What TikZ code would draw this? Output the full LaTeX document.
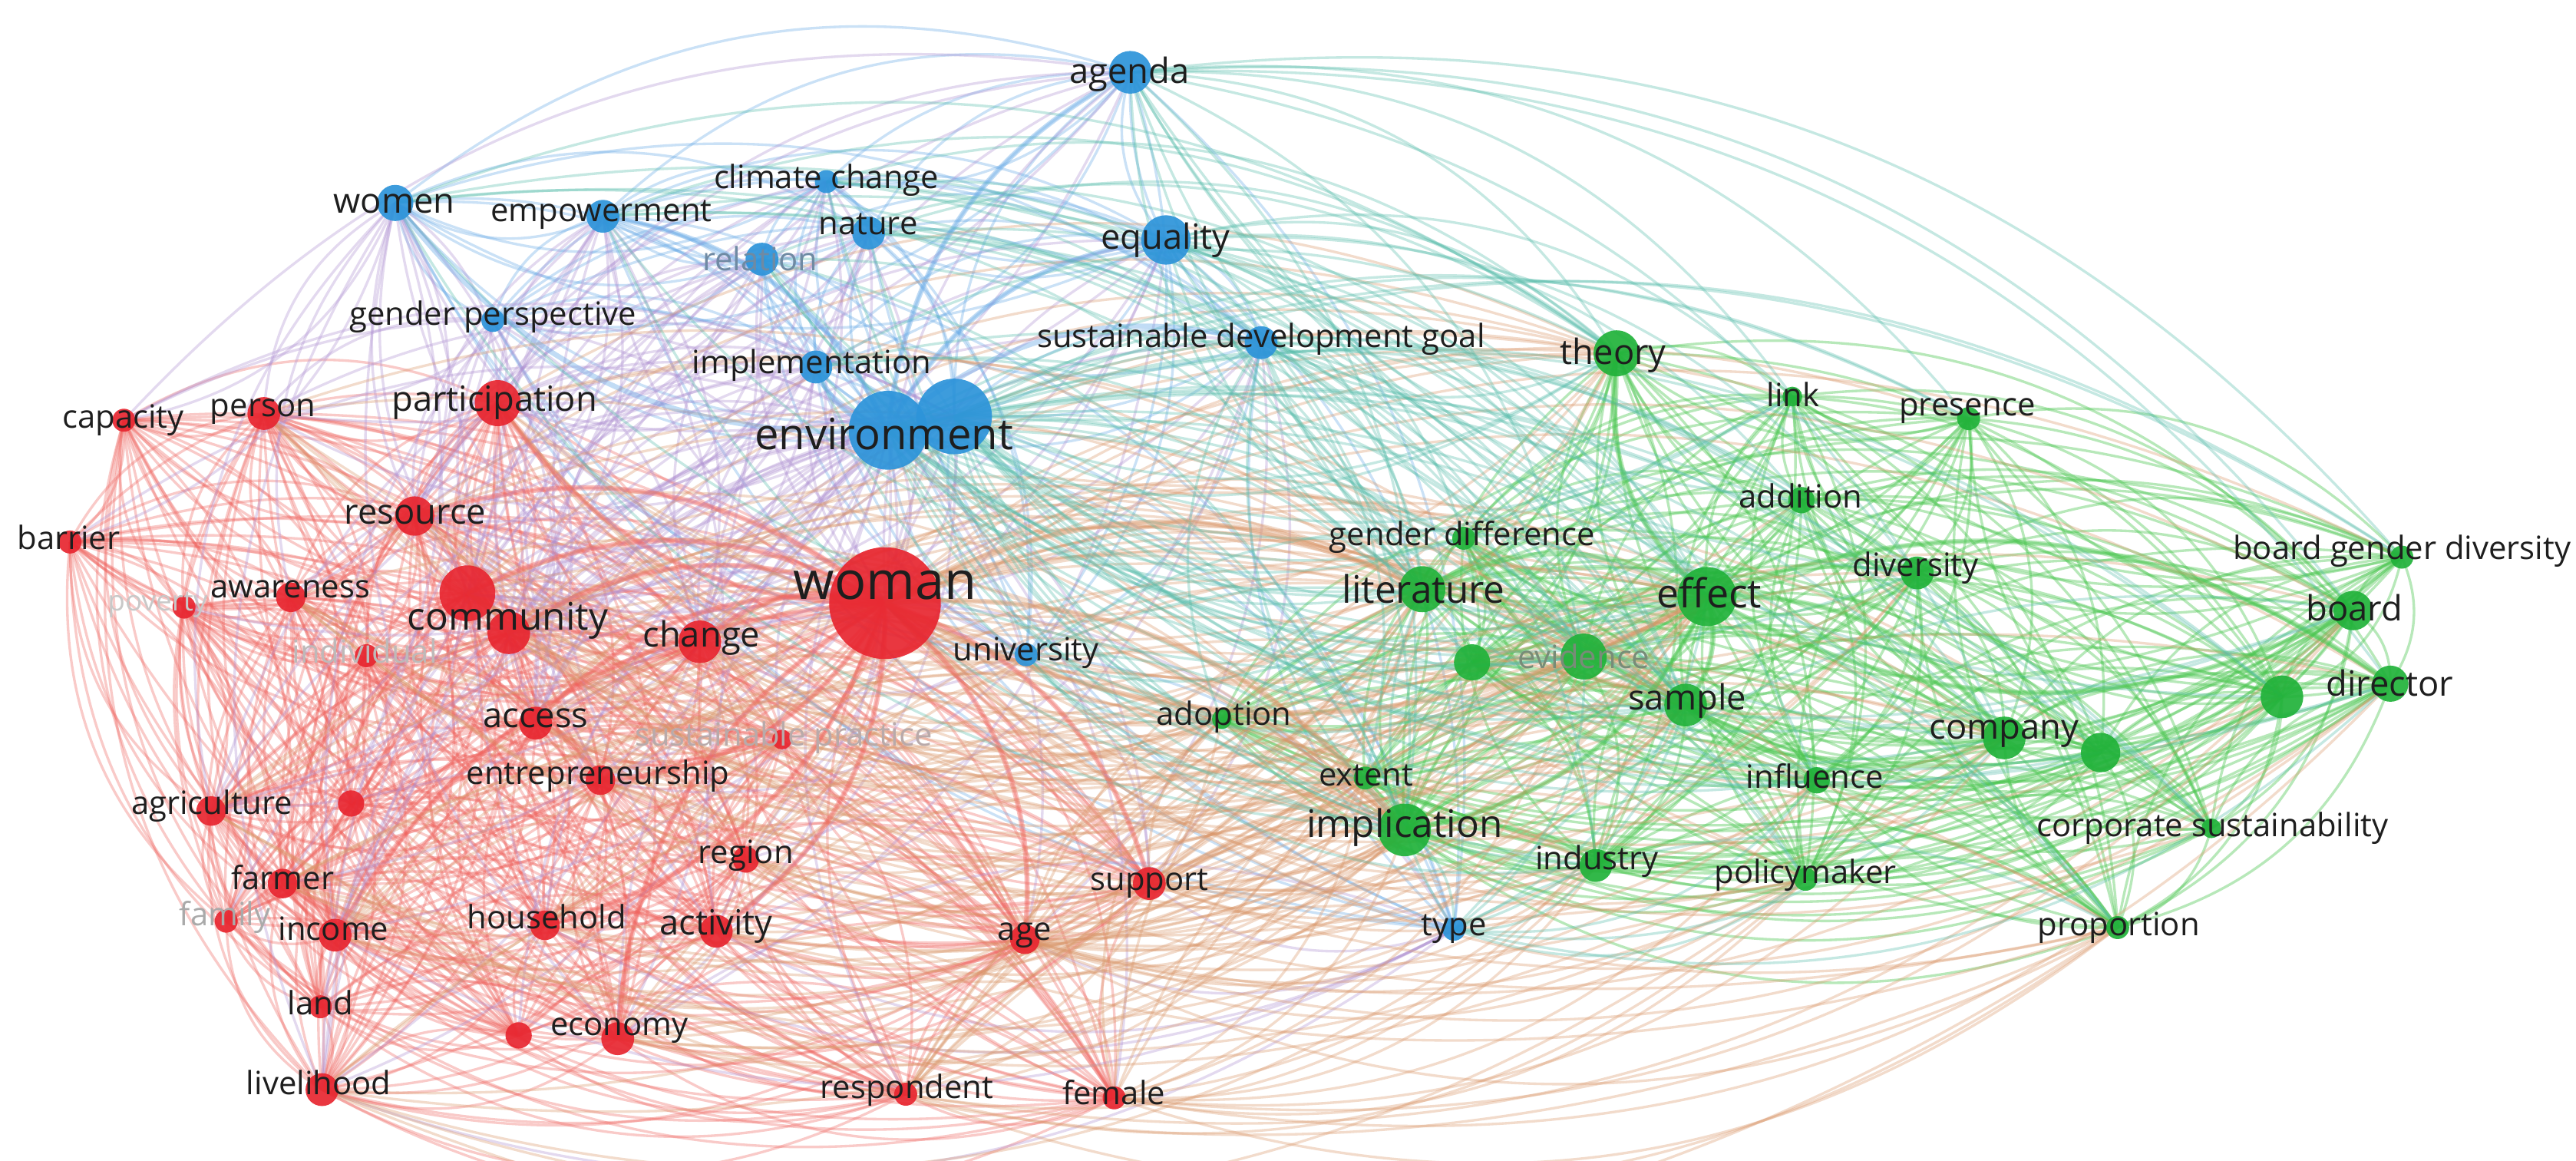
\documentclass[tikz,border=0pt]{standalone}
\usepackage{fontspec}
\setmainfont{Open Sans}
\usetikzlibrary{calc}
\pgfdeclarelayer{bg}
\pgfdeclarelayer{edges}
\pgfsetlayers{bg,edges,main}
\definecolor{cred}{RGB}{232,38,48}
\definecolor{cblue}{RGB}{45,148,218}
\definecolor{cgreen}{RGB}{33,178,58}
\definecolor{ecred}{RGB}{240,100,95}
\definecolor{ecblue}{RGB}{100,168,230}
\definecolor{ecgreen}{RGB}{75,198,80}
\definecolor{ecrb}{RGB}{175,145,210}
\definecolor{ecrg}{RGB}{218,150,105}
\definecolor{ecbg}{RGB}{85,188,170}
\definecolor{labcol}{RGB}{30,30,30}
\tikzset{
  kw/.style={circle,inner sep=0pt,draw=none,fill opacity=0.92},
  lab/.style={inner sep=0pt,text=labcol},
  s0/.style={font=\fontsize{10.5}{11}\selectfont},
  s1/.style={font=\fontsize{11.9}{12}\selectfont},
  s2/.style={font=\fontsize{12.9}{13}\selectfont},
  s3/.style={font=\fontsize{14.1}{14}\selectfont},
  se/.style={font=\fontsize{14.8}{15}\selectfont},
  s4/.style={font=\fontsize{16}{16}\selectfont},
  s5/.style={font=\fontsize{19.5}{20}\selectfont},
  edgebase/.style={line width=0.95pt,draw opacity=0.34},
  er/.style={edgebase,draw=ecred},
  eb/.style={edgebase,draw=ecblue},
  eg/.style={edgebase,draw=ecgreen,draw opacity=0.4},
  erb/.style={edgebase,draw=ecrb},
  erg/.style={edgebase,draw=ecrg},
  ebg/.style={edgebase,draw=ecbg},
  wide/.style={line width=1.9pt,draw opacity=0.4},
}
\newcommand\kw[5]{\node[kw,fill=#5,minimum size=#4*0.042806cm] (#1) at (#2,#3) {};}
\newcommand\lb[5]{\node[lab,#4] (l-#1) at (#2,#3) {#5};}
\newcommand\ed[3]{\draw[#1] let \p1=(#2.center), \p2=(#3.center),
  \n1={((\x1-475pt)/100)*((\y2+231pt)/100)-((\y1+231pt)/100)*((\x2-475pt)/100)},
  \n2={mod(int(abs(\x1*0.37+\y2*0.73+\x2*0.11+\y1*0.29)),5)},
  \n3={ifthenelse(\n1>0,-28,28)*ifthenelse(\n2<2,-1,1)}
  in (#2.center) to[bend left=\n3] (#3.center);}
\def\Rl{woman,commA,community,change,access,resource,participation,person,capacity,barrier,awareness,poverty,individual,sustpractice,entrepreneurship,agriculture,redX,farmer,region,family,income,household,activity,age,support,land,redY,economy,livelihood,respondent,female}
\def\Bl{agenda,women,empowerment,climatechange,nature,relation,equality,genderperspective,implementation,sdg,envA,envB,university,type}
\def\Gl{theory,link,presence,addition,genderdiff,bgd,literature,effect,diversity,board,evidA,evidence,sample,greenU,director,company,greenV,influence,corpsust,policymaker,proportion,industry,implication,extent,adoption}
\begin{document}
\begin{tikzpicture}[x=0.021403cm,y=-0.021403cm]
\begin{pgfonlayer}{bg}
\fill[white] (0,0) rectangle (1568,706);
\end{pgfonlayer}
\useasboundingbox (0,0) rectangle (1568,706);
% ---------- blue nodes
\kw{agenda}{688}{44}{13}{cblue}
\kw{women}{240.6}{123.5}{11}{cblue}
\kw{empowerment}{367}{131.6}{10}{cblue}
\kw{climatechange}{503}{110.5}{7}{cblue}
\kw{nature}{528.7}{141.8}{10}{cblue}
\kw{relation}{463.8}{157.7}{10}{cblue}
\kw{equality}{709.7}{146}{15}{cblue}
\kw{genderperspective}{300}{195}{7}{cblue}
\kw{implementation}{496.6}{223.3}{10}{cblue}
\kw{sdg}{767.6}{208.5}{10}{cblue}
\kw{envA}{540.6}{261.8}{24}{cblue}
\kw{envB}{580.8}{253.4}{23}{cblue}
\kw{university}{624.6}{398.4}{7}{cblue}
\kw{type}{885}{565.4}{7}{cblue}
% ---------- red nodes
\kw{woman}{538.7}{367}{34}{cred}
\kw{capacity}{75.4}{255.7}{7}{cred}
\kw{person}{160.6}{251.6}{10}{cred}
\kw{participation}{303}{245.3}{14}{cred}
\kw{resource}{252.4}{314}{12}{cred}
\kw{barrier}{42.6}{329.8}{7}{cred}
\kw{awareness}{177}{363.4}{9}{cred}
\kw{poverty}{112}{369.4}{7}{cred}
\kw{commA}{284.5}{361}{17}{cred}
\kw{community}{309.7}{385}{13}{cred}
\kw{individual}{223}{399}{7}{cred}
\kw{change}{426}{390.5}{13}{cred}
\kw{access}{326}{440}{10}{cred}
\kw{sustpractice}{476}{450}{6}{cred}
\kw{entrepreneurship}{365.5}{474.7}{9}{cred}
\kw{agriculture}{128.5}{493.5}{9}{cred}
\kw{redX}{213.7}{488.9}{8}{cred}
\kw{farmer}{172}{537.6}{9}{cred}
\kw{family}{137.7}{560.5}{7}{cred}
\kw{income}{204}{569}{10}{cred}
\kw{household}{331.7}{563}{9}{cred}
\kw{activity}{436}{566.6}{10}{cred}
\kw{region}{454}{523}{8}{cred}
\kw{land}{195}{612.6}{7}{cred}
\kw{redY}{315.7}{630}{8}{cred}
\kw{economy}{376}{632}{10}{cred}
\kw{livelihood}{196}{663}{10}{cred}
\kw{respondent}{551.3}{665.8}{7}{cred}
\kw{female}{678.2}{668}{7}{cred}
\kw{age}{623.8}{571.5}{9}{cred}
\kw{support}{699.6}{537.6}{10}{cred}
% ---------- green nodes
\kw{theory}{984}{215}{14}{cgreen}
\kw{link}{1091}{241.3}{6}{cgreen}
\kw{presence}{1198.3}{254.7}{7}{cgreen}
\kw{addition}{1096.5}{304.3}{8}{cgreen}
\kw{genderdiff}{891}{327.5}{7}{cgreen}
\kw{bgd}{1462}{339}{7}{cgreen}
\kw{literature}{865.8}{358.5}{14}{cgreen}
\kw{effect}{1039}{363}{18}{cgreen}
\kw{diversity}{1167}{348.6}{10}{cgreen}
\kw{board}{1432.3}{371.5}{12}{cgreen}
\kw{evidA}{896}{403}{11}{cgreen}
\kw{evidence}{964}{399.5}{14}{cgreen}
\kw{sample}{1026}{429}{13}{cgreen}
\kw{greenU}{1389}{424}{13}{cgreen}
\kw{director}{1455}{416}{11}{cgreen}
\kw{company}{1220}{449}{13}{cgreen}
\kw{greenV}{1278.6}{457.9}{12}{cgreen}
\kw{influence}{1105.8}{474.8}{8}{cgreen}
\kw{corpsust}{1346}{504}{6}{cgreen}
\kw{policymaker}{1099}{535}{7}{cgreen}
\kw{proportion}{1289}{564.4}{7}{cgreen}
\kw{industry}{971.4}{526.6}{10}{cgreen}
\kw{implication}{855}{505}{16}{cgreen}
\kw{extent}{831}{473.4}{7}{cgreen}
\kw{adoption}{743.7}{437.6}{6}{cgreen}
% ---------- labels
\lb{agenda}{687.5}{45}{s2}{agenda}
\lb{women}{240}{123.8}{s2}{women}
\lb{empowerment}{366}{130.6}{s1}{empowerment}
\lb{climatechange}{503}{109.5}{s1}{climate change}
\lb{nature}{528.5}{136.6}{s1}{nature}
\lb{relation}{462.6}{157.6}{s1,text={rgb,255:red,111;green,138;blue,163}}{relation}
\lb{equality}{709.5}{146}{s2}{equality}
\lb{genderperspective}{300}{193}{s1}{gender perspective}
\lb{implementation}{494}{222}{s1}{implementation}
\lb{sdg}{767.6}{206.5}{s1}{sustainable development goal}
\lb{env}{538}{264}{s4}{environment}
\lb{university}{624.5}{397}{s1}{university}
\lb{type}{885}{565.4}{s1}{type}
\lb{woman}{538.7}{356}{s5}{woman}
\lb{capacity}{75}{255.7}{s1}{capacity}
\lb{person}{160}{250.5}{s1}{person}
\lb{participation}{301}{244.8}{s2}{participation}
\lb{resource}{252.7}{313}{s2}{resource}
\lb{barrier}{41.8}{327}{s1}{barrier}
\lb{awareness}{176.7}{358.5}{s1}{awareness}
\lb{poverty}{96}{368}{s0,text={rgb,255:red,200;green,200;blue,200}}{poverty}
\lb{community}{309}{377.8}{s3}{community}
\lb{individual}{222}{396}{s1,text={rgb,255:red,190;green,185;blue,185}}{individual}
\lb{change}{427}{388}{s2}{change}
\lb{access}{326}{437}{s2}{access}
\lb{sustpractice}{477}{449}{s1,text={rgb,255:red,185;green,170;blue,170}}{sustainable practice}
\lb{entrepreneurship}{364}{472}{s1}{entrepreneurship}
\lb{agriculture}{129}{490.4}{s1}{agriculture}
\lb{farmer}{172}{534}{s1}{farmer}
\lb{family}{137}{558}{s1,text={rgb,255:red,170;green,170;blue,170}}{family}
\lb{income}{203}{565}{s1}{income}
\lb{household}{332.7}{558}{s1}{household}
\lb{activity}{436}{563.7}{s2}{activity}
\lb{region}{454}{520.5}{s1}{region}
\lb{land}{195}{610}{s1}{land}
\lb{economy}{377}{627}{s1}{economy}
\lb{livelihood}{194}{658.5}{s1}{livelihood}
\lb{respondent}{552}{663.4}{s1}{respondent}
\lb{female}{678}{664.6}{s1}{female}
\lb{age}{623.6}{569}{s1}{age}
\lb{support}{699.6}{537.6}{s1}{support}
\lb{theory}{982}{216}{s2}{theory}
\lb{link}{1091.5}{240}{s1}{link}
\lb{presence}{1197.5}{250.2}{s1}{presence}
\lb{addition}{1096}{301.6}{s1}{addition}
\lb{genderdiff}{890}{327}{s1}{gender difference}
\lb{bgd}{1462}{335.2}{s1}{board gender diversity}
\lb{literature}{866.5}{358.4}{s3}{literature}
\lb{effect}{1040.5}{360.7}{se}{effect}
\lb{diversity}{1166}{345.8}{s1}{diversity}
\lb{board}{1433}{370}{s2}{board}
\lb{evidence}{964}{399.5}{s1,text={rgb,255:red,120;green,140;blue,120}}{evidence}
\lb{sample}{1027}{426.4}{s2}{sample}
\lb{director}{1454.7}{415.6}{s2}{director}
\lb{company}{1220}{446.5}{s2}{company}
\lb{influence}{1104.7}{472}{s1}{influence}
\lb{corpsust}{1346.8}{504}{s1}{corporate sustainability}
\lb{policymaker}{1099}{532.3}{s1}{policymaker}
\lb{proportion}{1289.6}{564.4}{s1}{proportion}
\lb{industry}{972}{524}{s1}{industry}
\lb{implication}{855}{503.6}{s3}{implication}
\lb{extent}{831.5}{472}{s1}{extent}
\lb{adoption}{745}{436}{s1}{adoption}
% ---------- edges
\begin{pgfonlayer}{edges}
\foreach \a [count=\i] in \Rl {\foreach \b [count=\j] in \Rl {\ifnum\j>\i \ed{er}{\a}{\b}\fi}}
\foreach \a [count=\i] in \Bl {\foreach \b [count=\j] in \Bl {\ifnum\j>\i \ed{eb}{\a}{\b}\fi}}
\foreach \a [count=\i] in \Gl {\foreach \b [count=\j] in \Gl {\ifnum\j>\i \ed{eg}{\a}{\b}\fi}}
% red-blue
\foreach \a in {envA} {\foreach \b in \Rl {\ed{erb}{\a}{\b}}}
\foreach \a in {envB} {\foreach \b in {woman,commA,community,change,access,resource,participation,income,activity,economy,entrepreneurship,agriculture,capacity,person} {\ed{erb}{\a}{\b}}}
\foreach \b in {agenda,women,empowerment,climatechange,nature,relation,equality,genderperspective,implementation,sdg,university,type} {\ed{erb}{woman}{\b}}
\foreach \b in {commA,community,participation,resource,person,capacity,barrier,awareness,change,access,income,livelihood,economy,agriculture,farmer} {\ed{erb}{women}{\b}}
\foreach \b in {commA,community,participation,resource,change,access,income,entrepreneurship,economy,household,activity,person} {\ed{erb}{empowerment}{\b}}
\foreach \b in {commA,participation,community,resource,change,person,capacity} {\ed{erb}{agenda}{\b}}
\foreach \b in {commA,community,participation,resource,change,access,person,awareness} {\ed{erb}{genderperspective}{\b}}
\foreach \a in {relation,nature,climatechange,implementation} {\foreach \b in {commA,community,change,access,resource,participation,agriculture,livelihood} {\ed{erb}{\a}{\b}}}
\foreach \b in {commA,community,participation,change,access,economy,income} {\ed{erb}{equality}{\b}}
\foreach \b in {commA,community,change,region,activity,support,age} {\ed{erb}{sdg}{\b}}
\foreach \b in {commA,community,change,access,entrepreneurship,activity,support} {\ed{erb}{university}{\b}}
\foreach \b in {age,support,activity,household,economy,income,livelihood} {\ed{erb}{type}{\b}}
% red-green
\foreach \b in \Gl {\ed{erg}{woman}{\b}}
\foreach \a in {commA,community,change,access,resource,participation,entrepreneurship,activity,region,household,income,economy} {\foreach \b in {effect,literature,implication,sample,evidence,theory,extent,adoption} {\ed{erg}{\a}{\b}}}
\foreach \a in {support,age,respondent,female} {\foreach \b in {effect,implication,literature,sample,evidence,industry,company,influence,proportion,policymaker,extent,adoption,diversity,board,director} {\ed{erg}{\a}{\b}}}
\foreach \a in {livelihood,agriculture,farmer,awareness,person} {\foreach \b in {implication,effect,industry,proportion,policymaker,company,literature} {\ed{erg}{\a}{\b}}}
% blue-green
\foreach \a in {envA,envB} {\foreach \b in \Gl {\ed{ebg}{\a}{\b}}}
\foreach \b in {theory,effect,literature,implication,sample,company,board,director,diversity,presence,link,addition,bgd,evidence,greenU} {\ed{ebg}{agenda}{\b}}
\foreach \b in {theory,effect,literature,implication,sample,evidence,company,diversity,addition,genderdiff,link,influence} {\ed{ebg}{equality}{\b}}
\foreach \b in {theory,effect,literature,implication,sample,evidence,company,industry,genderdiff,extent,adoption,influence} {\ed{ebg}{sdg}{\b}}
\foreach \a in {women,empowerment,climatechange,nature,relation,implementation} {\foreach \b in {theory,effect,literature,implication,evidence,sample} {\ed{ebg}{\a}{\b}}}
\foreach \b in {effect,literature,implication,evidence,sample,extent,adoption,industry} {\ed{ebg}{university}{\b}}
\foreach \b in {implication,effect,sample,industry,company,evidence,literature,proportion,influence,policymaker,director,board} {\ed{ebg}{type}{\b}}
% strong links
\foreach \b in {commA,community,change,access,resource,participation,activity,entrepreneurship,support,age,income,economy,household} {\ed{er,wide}{woman}{\b}}
\foreach \b in {women,empowerment,equality,agenda,implementation,sdg} {\ed{eb,wide}{envA}{\b}}
\foreach \b in {literature,sample,company,theory,implication,director,board} {\ed{eg,wide}{effect}{\b}}
\foreach \b in {literature,implication,effect} {\ed{erg,wide}{woman}{\b}}
\end{pgfonlayer}
\end{tikzpicture}
\end{document}
